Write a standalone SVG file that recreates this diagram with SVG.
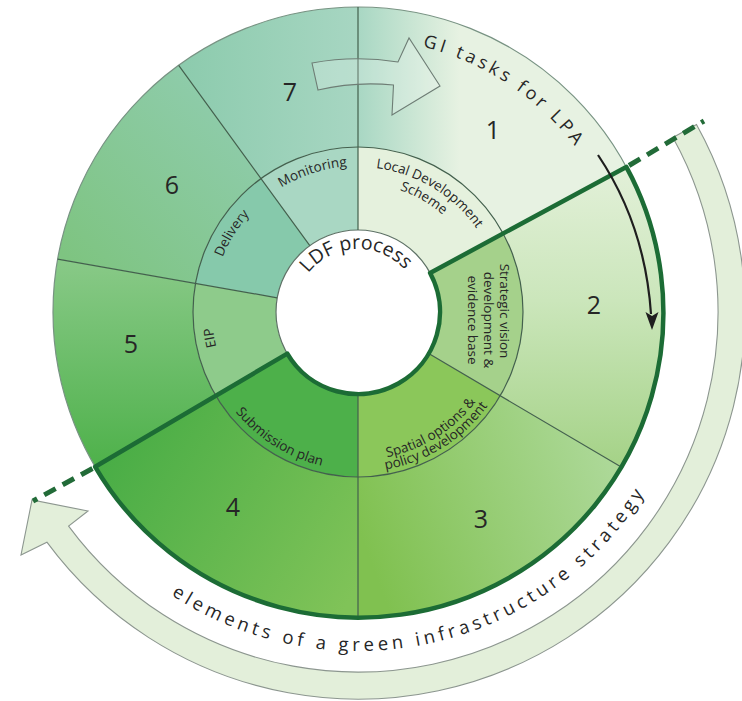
<svg xmlns="http://www.w3.org/2000/svg" width="742" height="701" viewBox="0 0 742 701">
<defs>
  <linearGradient id="g1" gradientUnits="userSpaceOnUse" x1="358" y1="0" x2="460" y2="0">
    <stop offset="0" stop-color="#a8d7c3"/><stop offset="1" stop-color="#e7f2e2"/>
  </linearGradient>
  <linearGradient id="g2" gradientUnits="userSpaceOnUse" x1="0" y1="170" x2="0" y2="460">
    <stop offset="0" stop-color="#e2f0d8"/><stop offset="0.45" stop-color="#cbe6bb"/><stop offset="1" stop-color="#a6d389"/>
  </linearGradient>
  <linearGradient id="g3" gradientUnits="userSpaceOnUse" x1="370" y1="560" x2="610" y2="470">
    <stop offset="0" stop-color="#80c150"/><stop offset="1" stop-color="#acd897"/>
  </linearGradient>
  <linearGradient id="g4" gradientUnits="userSpaceOnUse" x1="110" y1="450" x2="350" y2="600">
    <stop offset="0" stop-color="#49ad46"/><stop offset="1" stop-color="#80c358"/>
  </linearGradient>
  <linearGradient id="g5" gradientUnits="userSpaceOnUse" x1="0" y1="262" x2="0" y2="467">
    <stop offset="0" stop-color="#88c987"/><stop offset="1" stop-color="#4eb14a"/>
  </linearGradient>
  <linearGradient id="g6" gradientUnits="userSpaceOnUse" x1="250" y1="80" x2="70" y2="260">
    <stop offset="0" stop-color="#91cdb1"/><stop offset="1" stop-color="#7ec481"/>
  </linearGradient>
  <linearGradient id="g7" gradientUnits="userSpaceOnUse" x1="180" y1="0" x2="358" y2="0">
    <stop offset="0" stop-color="#8ccbad"/><stop offset="1" stop-color="#a7d6c2"/>
  </linearGradient>
  <path id="tp-gi" d="M374.7,39.5 A273,273 0 0 1 602.3,190.2"/>
  <path id="tp-el" d="M107.6,540.6 A339,339 0 0 0 681.1,414.5"/>
  <path id="tp-ldf" d="M295,314.2 A63,63 0 0 1 421,309.8"/>
  <path id="tp-mon" d="M234.2,234.6 A146,146 0 0 1 412.7,176.6"/>
  <path id="tp-del" d="M212.1,306.9 A146,146 0 0 1 289.5,183.1"/>
  <path id="tp-eip" d="M231.6,385 A146,146 0 0 1 214.2,286.6"/>
  <path id="tp-lds1" d="M335.3,168.8 A145,145 0 0 1 495.1,264.8"/>
  <path id="tp-lds2" d="M358,183 A129,129 0 0 1 469.7,247.5"/>
  <path id="tp-so1" d="M337.4,458.6 A148,148 0 0 0 498.8,357.7"/>
  <path id="tp-so2" d="M335.7,470.4 A160,160 0 0 0 510.2,361.4"/>
  <path id="tp-sp" d="M207.7,360.8 A158,158 0 0 0 380,468.5"/>
</defs>
<style>
  text{font-family:"Open Sans","Noto Sans","DejaVu Sans",sans-serif;fill:#262626}
  .div{fill:none;stroke:#43604d;stroke-width:1.2}
  .thick{fill:none;stroke:#1c6c35;stroke-width:4.5;stroke-linecap:round}
  .dash{fill:none;stroke:#226b38;stroke-width:5;stroke-dasharray:13 8}
  .num{font-size:25px;text-anchor:middle}
  .lbl{font-size:13.5px}
  .band{fill:#e3efda;stroke:#8c968f;stroke-width:1.1}
</style>
<rect width="742" height="701" fill="#ffffff"/>

<g id="gi-strategy-band">
  <path class="band" d="M696.5,124.4 A387,387 0 0 1 46.9,542.2 L21,555 L32,500 L88,511 L68.6,526.1 A360,360 0 0 0 672.9,137.5 Z"/>
  <text font-size="18.5" letter-spacing="4"><textPath href="#tp-el" startOffset="50%" text-anchor="middle">elements of a green infrastructure strategy</textPath></text>
</g>

<g id="task-1"><path fill="url(#g1)" d="M358,7 A305,305 0 0 1 626.3,166.9 L503.1,233.5 A165,165 0 0 0 358,147 Z"/>
  <text class="num" x="493" y="139" font-size="20">1</text></g>
<g id="task-2"><path fill="url(#g2)" d="M626.3,166.9 A305,305 0 0 1 620.8,466.8 L500.2,395.7 A165,165 0 0 0 503.1,233.5 Z"/>
  <text class="num" x="594" y="314" font-size="20">2</text></g>
<g id="task-3"><path fill="url(#g3)" d="M620.8,466.8 A305,305 0 0 1 358,617 L358,477 A165,165 0 0 0 500.2,395.7 Z"/>
  <text class="num" x="481" y="528">3</text></g>
<g id="task-4"><path fill="url(#g4)" d="M358,617 A305,305 0 0 1 95.2,466.8 L215.8,395.7 A165,165 0 0 0 358,477 Z"/>
  <text class="num" x="233" y="516">4</text></g>
<g id="task-5"><path fill="url(#g5)" d="M95.2,466.8 A305,305 0 0 1 57.6,259.1 L195.5,283.4 A165,165 0 0 0 215.8,395.7 Z"/>
  <text class="num" x="131" y="353">5</text></g>
<g id="task-6"><path fill="url(#g6)" d="M57.6,259.1 A305,305 0 0 1 178.7,65.3 L261,178.5 A165,165 0 0 0 195.5,283.4 Z"/>
  <text class="num" x="172" y="194">6</text></g>
<g id="task-7"><path fill="url(#g7)" d="M178.7,65.3 A305,305 0 0 1 358,7 L358,147 A165,165 0 0 0 261,178.5 Z"/>
  <text class="num" x="290" y="101">7</text></g>

<g id="stage-lds"><path fill="#e5f1dd" d="M358,147 A165,165 0 0 1 503.1,233.5 L430.1,273 A82,82 0 0 0 358,230 Z"/>
  <text class="lbl"><textPath href="#tp-lds1" startOffset="50%" text-anchor="middle">Local Development</textPath></text>
  <text class="lbl"><textPath href="#tp-lds2" startOffset="50%" text-anchor="middle">Scheme</textPath></text></g>
<g id="stage-strategic"><path fill="#a5d18b" d="M503.1,233.5 A165,165 0 0 1 500.2,395.7 L428.7,353.6 A82,82 0 0 0 430.1,273 Z"/>
  <text class="lbl" text-anchor="middle" transform="translate(500,311) rotate(90)">Strategic vision</text>
  <text class="lbl" text-anchor="middle" transform="translate(484,320) rotate(90)">development &amp;</text>
  <text class="lbl" text-anchor="middle" transform="translate(468,320) rotate(90)">evidence base</text></g>
<g id="stage-spatial"><path fill="#8bc75a" d="M500.2,395.7 A165,165 0 0 1 358,477 L358,394 A82,82 0 0 0 428.7,353.6 Z"/>
  <text class="lbl"><textPath href="#tp-so1" startOffset="50%" text-anchor="middle">Spatial options &amp;</textPath></text>
  <text class="lbl"><textPath href="#tp-so2" startOffset="50%" text-anchor="middle">policy development</textPath></text></g>
<g id="stage-submission"><path fill="#4db04a" d="M358,477 A165,165 0 0 1 215.8,395.7 L287.3,353.6 A82,82 0 0 0 358,394 Z"/>
  <text class="lbl"><textPath href="#tp-sp" startOffset="50%" text-anchor="middle">Submission plan</textPath></text></g>
<g id="stage-eip"><path fill="#8ecb8b" d="M215.8,395.7 A165,165 0 0 1 195.5,283.4 L277.2,297.8 A82,82 0 0 0 287.3,353.6 Z"/>
  <text class="lbl"><textPath href="#tp-eip" startOffset="50%" text-anchor="middle">EIP</textPath></text></g>
<g id="stage-delivery"><path fill="#86c9ab" d="M195.5,283.4 A165,165 0 0 1 261,178.5 L309.8,245.7 A82,82 0 0 0 277.2,297.8 Z"/>
  <text class="lbl"><textPath href="#tp-del" startOffset="50%" text-anchor="middle">Delivery</textPath></text></g>
<g id="stage-monitoring"><path fill="#a9d7c3" d="M261,178.5 A165,165 0 0 1 358,147 L358,230 A82,82 0 0 0 309.8,245.7 Z"/>
  <text class="lbl"><textPath href="#tp-mon" startOffset="50%" text-anchor="middle">Monitoring</textPath></text></g>

<g id="ldf-core"><circle cx="358" cy="312" r="82" fill="#ffffff"/>
  <text font-size="19.5"><textPath href="#tp-ldf" startOffset="50%" text-anchor="middle">LDF process</textPath></text></g>

<g id="connectors">
  <circle cx="358" cy="312" r="305" fill="none" stroke="#789383" stroke-width="1.2"/>
  <circle class="div" cx="358" cy="312" r="165"/>
  <circle cx="358" cy="312" r="82" fill="none" stroke="#5d7165" stroke-width="1.2"/>
  <path class="div" d="M358,7 L358,230 M178.7,65.3 L309.8,245.7 M57.6,259.1 L277.2,297.8 M358,394 L358,617 M428.7,353.6 L620.8,466.8"/>
  <path class="thick" d="M430.1,273 L626.3,166.9 M287.3,353.6 L95.2,466.8 M626.3,166.9 A305,305 0 0 1 95.2,466.8 M430.1,273 A82,82 0 0 1 287.3,353.6"/>
  <path class="dash" d="M629,165.5 L704,121 M92.5,468.5 L33,501"/>
  <path d="M598,155 Q645,225 651,314" fill="none" stroke="#1e1e1e" stroke-width="2.2"/>
  <polygon points="652,330 645.5,312 652,316 658.5,312" fill="#1e1e1e"/>
  <path d="M312,63 A253,253 0 0 1 398,62 L409,38 L440,86 L392,115 L393.5,85 A229,229 0 0 0 318,90 Z" fill="#ffffff" fill-opacity="0.22" stroke="#6e7d75" stroke-width="1.1"/>
</g>

<g id="gi-tasks-label">
  <text font-size="18" letter-spacing="3.6"><textPath href="#tp-gi" startOffset="50%" text-anchor="middle">GI tasks for LPA</textPath></text>
</g>
</svg>
